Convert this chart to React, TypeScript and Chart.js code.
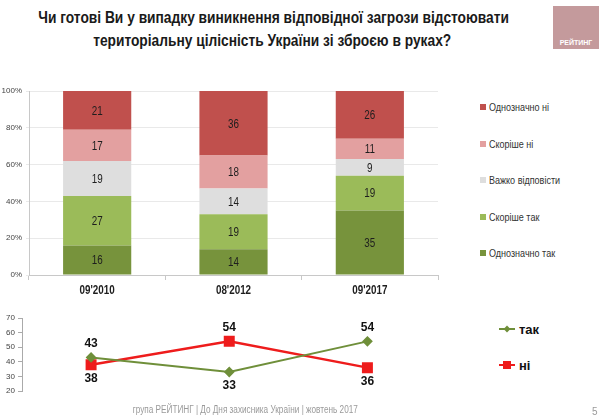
import React, { useEffect, useRef } from "react";
import { Chart, registerables } from "chart.js";

Chart.register(...registerables);

const REG = '"Liberation Sans", Arial, sans-serif';
const NARROW_SCALE = 0.82;

// ---------- data ----------
const categories = ["09'2010", "08'2012", "09'2017"];
const seriesLabels = ["Однозначно так", "Скоріше так", "Важко відповісти", "Скоріше ні", "Однозначно ні"];
const definitelyYes = [16, 14, 35];
const ratherYes = [27, 19, 19];
const hardToSay = [19, 14, 9];
const ratherNo = [17, 18, 11];
const definitelyNo = [21, 36, 26];
const seriesColors = ["#77933c", "#9bbb59", "#dedede", "#e3a0a0", "#c0504d"];
const yTicks = [0, 20, 40, 60, 80, 100];

const lineLabels = ["так", "ні"];
const yesTotal = [43, 33, 54];
const noTotal = [38, 54, 36];
const lineColors = ["#6f8f3a", "#ee1c1c"];
const yesLabelSide = ["above", "below", "above"];
const noLabelSide = ["below", "above", "below"];
const lineYTicks = [20, 30, 40, 50, 60, 70];

const title1 = "Чи готові Ви у випадку виникнення відповідної загрози відстоювати";
const title2 = "територіальну цілісність України зі зброєю в руках?";
const footer = "група РЕЙТИНГ  |  До Дня захисника України |  жовтень 2017";

function narrowText(ctx: CanvasRenderingContext2D, text: string, x: number, y: number) {
  ctx.save();
  ctx.translate(x, y);
  ctx.scale(NARROW_SCALE, 1);
  ctx.fillText(text, 0, 0);
  ctx.restore();
}

const barLabelPlugin = {
  id: "barLabels",
  afterDatasetsDraw(chart: any) {
    const ctx = chart.ctx;
    const area = chart.chartArea;
    ctx.save();
    ctx.font = `12px ${REG}`;
    ctx.fillStyle = "#1e1e1e";
    ctx.textAlign = "center";
    ctx.textBaseline = "middle";
    chart.data.datasets.forEach((ds: any, i: number) => {
      const meta = chart.getDatasetMeta(i);
      meta.data.forEach((el: any, j: number) => {
        const top = Math.max(Math.min(el.y, el.base), area.top);
        const bot = Math.min(Math.max(el.y, el.base), area.bottom);
        narrowText(ctx, String(ds.data[j]), el.x, (top + bot) / 2 + 1);
      });
    });
    ctx.restore();
  },
};

const categoryLabelPlugin = {
  id: "catLabels",
  afterDraw(chart: any) {
    const ctx = chart.ctx;
    const xs = chart.scales.x;
    ctx.save();
    ctx.font = `bold 12px ${REG}`;
    ctx.fillStyle = "#1e1e1e";
    ctx.textAlign = "center";
    ctx.textBaseline = "middle";
    chart.data.labels.forEach((l: string, i: number) => {
      narrowText(ctx, l, xs.getPixelForValue(i), xs.top + 16);
    });
    ctx.restore();
  },
};

const lineLabelPlugin = {
  id: "lineLabels",
  afterDatasetsDraw(chart: any) {
    const ctx = chart.ctx;
    ctx.save();
    ctx.font = `bold 12px ${REG}`;
    ctx.fillStyle = "#111";
    ctx.textAlign = "center";
    ctx.textBaseline = "middle";
    chart.data.datasets.forEach((ds: any, i: number) => {
      const meta = chart.getDatasetMeta(i);
      const sides = ds.labelSides as string[];
      meta.data.forEach((el: any, j: number) => {
        const dy = sides[j] === "above" ? -14 : 14;
        ctx.fillText(String(ds.data[j]), el.x, el.y + dy);
      });
    });
    ctx.restore();
  },
};

const narrowSpan = (origin: string, k: number = NARROW_SCALE): React.CSSProperties => ({
  display: "inline-block",
  whiteSpace: "nowrap",
  transform: `scaleX(${k})`,
  transformOrigin: origin,
});

export default function App() {
  const barRef = useRef<HTMLCanvasElement | null>(null);
  const lineRef = useRef<HTMLCanvasElement | null>(null);

  useEffect(() => {
    const values = [definitelyYes, ratherYes, hardToSay, ratherNo, definitelyNo];
    const bar = new Chart(barRef.current as HTMLCanvasElement, {
      type: "bar",
      data: {
        labels: categories,
        datasets: seriesLabels.map((l, i) => ({
          label: l,
          data: values[i],
          backgroundColor: seriesColors[i],
          borderWidth: 0,
          barPercentage: 0.5,
          categoryPercentage: 1,
        })),
      },
      options: {
        animation: false,
        responsive: true,
        maintainAspectRatio: false,
        layout: { padding: { top: 11, right: 7, left: 0, bottom: 0 } },
        plugins: { legend: { display: false }, tooltip: { enabled: false } },
        scales: {
          x: {
            stacked: true,
            grid: { display: true, drawOnChartArea: false, drawTicks: true, tickLength: 5, color: "#c8c8c8", offset: true },
            border: { display: true, color: "#c8c8c8" },
            ticks: { display: false },
            afterFit: (s: any) => { s.height = 25; },
          },
          y: {
            stacked: true,
            min: 0,
            max: 100,
            afterBuildTicks: (s: any) => { s.ticks = yTicks.map((v) => ({ value: v })); },
            ticks: { color: "#444", font: { family: REG, size: 8 }, padding: 4, callback: (v: any) => `${v}%` },
            grid: { color: "#e9e9e9", tickLength: 3 },
            border: { display: true, color: "#c8c8c8" },
            afterFit: (s: any) => { s.width = 29; },
          },
        },
      },
      plugins: [barLabelPlugin, categoryLabelPlugin],
    } as any);

    const line = new Chart(lineRef.current as HTMLCanvasElement, {
      type: "line",
      data: {
        labels: categories,
        datasets: [
          {
            label: lineLabels[0],
            data: yesTotal,
            borderColor: lineColors[0],
            backgroundColor: lineColors[0],
            borderWidth: 2,
            pointStyle: "rectRot",
            pointRadius: 4,
            labelSides: yesLabelSide,
          },
          {
            label: lineLabels[1],
            data: noTotal,
            borderColor: lineColors[1],
            backgroundColor: lineColors[1],
            borderWidth: 2.5,
            pointStyle: "rect",
            pointRadius: 6,
            labelSides: noLabelSide,
          },
        ],
      },
      options: {
        animation: false,
        responsive: true,
        maintainAspectRatio: false,
        layout: { padding: { top: 13, right: 5, left: 0, bottom: 14 } },
        plugins: { legend: { display: false }, tooltip: { enabled: false } },
        scales: {
          x: { display: false, offset: true },
          y: {
            min: 20,
            max: 70,
            afterBuildTicks: (s: any) => { s.ticks = lineYTicks.map((v) => ({ value: v })); },
            ticks: { color: "#444", font: { family: REG, size: 8 }, padding: 3 },
            grid: { drawOnChartArea: false, tickLength: 4, color: "#aaa" },
            border: { display: true, color: "#aaa" },
            afterFit: (s: any) => { s.width = 22; },
          },
        },
      },
      plugins: [lineLabelPlugin],
    } as any);

    return () => {
      bar.destroy();
      line.destroy();
    };
  }, []);

  const legendOrder = [4, 3, 2, 1, 0];

  return (
    <div style={{ position: "absolute", left: 0, top: 0, width: 600, height: 420, background: "#fff", overflow: "hidden", fontFamily: REG }}>
      <div style={{ position: "absolute", left: 0, top: 6, width: 544, textAlign: "center", fontWeight: "bold", fontSize: 16, lineHeight: "23px", color: "#1a1a1a" }}>
        <div><span style={narrowSpan("center", 0.86)}>{title1}</span></div>
        <div><span style={narrowSpan("center", 0.86)}>{title2}</span></div>
      </div>
      <div style={{ position: "absolute", left: 553, top: 6, width: 46, height: 43, background: "#c49a9c" }}>
        <div style={{ position: "absolute", left: 0, width: 46, bottom: 3, textAlign: "center", color: "#fff", fontWeight: "bold", fontSize: 7 }}>РЕЙТИНГ</div>
      </div>
      <div style={{ position: "absolute", left: 0, top: 80, width: 445, height: 220 }}>
        <canvas ref={barRef} />
      </div>
      {legendOrder.map((idx, k) => (
        <div key={idx} style={{ position: "absolute", left: 480, top: 100 + k * 36.5, height: 14, display: "flex", alignItems: "center", fontSize: 11, color: "#333" }}>
          <span style={{ display: "inline-block", width: 6, height: 6, background: seriesColors[idx], marginRight: 3 }} />
          <span style={narrowSpan("left center")}>{seriesLabels[idx]}</span>
        </div>
      ))}
      <div style={{ position: "absolute", left: 0, top: 305, width: 445, height: 100 }}>
        <canvas ref={lineRef} />
      </div>
      {lineLabels.map((l, i) => (
        <div key={l} style={{ position: "absolute", left: 499, top: 321 + i * 36, height: 16, display: "flex", alignItems: "center" }}>
          <span style={{ position: "relative", display: "inline-block", width: 16, height: i === 0 ? 2 : 2.5, background: lineColors[i] }}>
            <span style={{
              position: "absolute",
              left: i === 0 ? 5 : 4,
              top: i === 0 ? -2 : -2.75,
              width: i === 0 ? 6 : 8,
              height: i === 0 ? 6 : 8,
              background: lineColors[i],
              transform: i === 0 ? "rotate(45deg) scale(0.8)" : "none",
            }} />
          </span>
          <span style={{ marginLeft: 4, fontWeight: "bold", fontSize: 13, color: "#111" }}>{l}</span>
        </div>
      ))}
      <div style={{ position: "absolute", left: 0, width: 490, top: 404, textAlign: "center", fontSize: 10, color: "#9a9a9a" }}>
        <span style={narrowSpan("center")}>{footer}</span>
      </div>
      <div style={{ position: "absolute", left: 592, top: 406, fontSize: 10, color: "#9a9a9a" }}>5</div>
    </div>
  );
}
